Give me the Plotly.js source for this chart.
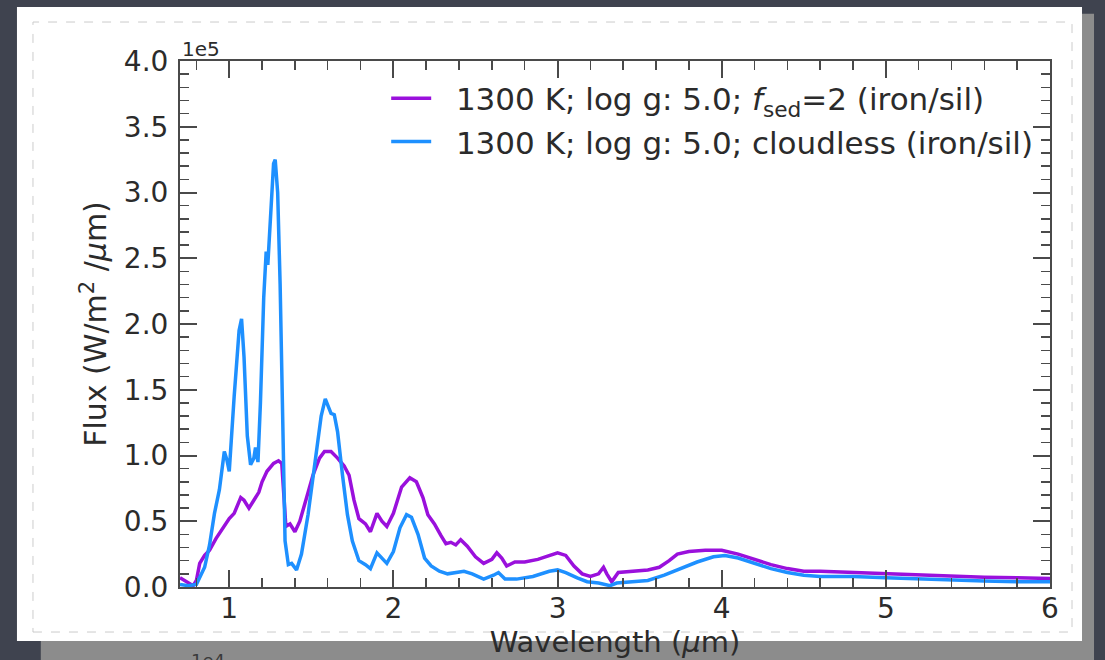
<!DOCTYPE html>
<html>
<head>
<meta charset="utf-8">
<script src="https://cdn.plot.ly/plotly-3.0.1.min.js"></script>
<style>
  html, body { margin: 0; padding: 0; background: #3f434f; }
  #chart { width: 1105px; height: 660px; }
</style>
</head>
<body>
<div id="chart"></div>
<script>
// Wavelength (μm) and flux (units of 1e5 W/m^2/μm)
const wavelengthCloudy = [0.70,0.74,0.78,0.80,0.82,0.85,0.88,0.92,0.96,1.00,1.03,1.07,1.09,1.12,1.15,1.18,1.20,1.23,1.27,1.30,1.32,1.335,1.345,1.37,1.40,1.43,1.47,1.51,1.55,1.58,1.62,1.66,1.70,1.73,1.76,1.79,1.83,1.86,1.90,1.93,1.96,2.00,2.05,2.10,2.14,2.18,2.21,2.25,2.29,2.32,2.35,2.38,2.41,2.45,2.50,2.55,2.60,2.63,2.66,2.69,2.74,2.80,2.88,2.95,3.00,3.05,3.10,3.15,3.20,3.25,3.28,3.30,3.33,3.37,3.45,3.55,3.62,3.68,3.73,3.80,3.90,4.00,4.10,4.20,4.30,4.40,4.50,4.60,4.70,4.80,4.90,5.00,5.20,5.40,5.60,5.80,6.00];
const fluxCloudy = [0.07,0.04,0.01,0.05,0.18,0.24,0.28,0.37,0.44,0.52,0.56,0.68,0.66,0.60,0.66,0.72,0.80,0.88,0.94,0.96,0.94,0.60,0.46,0.48,0.42,0.50,0.68,0.85,0.98,1.03,1.03,0.98,0.92,0.85,0.66,0.52,0.48,0.42,0.56,0.50,0.46,0.56,0.76,0.83,0.80,0.68,0.55,0.48,0.39,0.33,0.34,0.32,0.36,0.31,0.23,0.18,0.21,0.26,0.22,0.16,0.19,0.19,0.21,0.24,0.26,0.24,0.16,0.10,0.08,0.10,0.15,0.10,0.04,0.11,0.12,0.13,0.15,0.20,0.25,0.27,0.28,0.28,0.25,0.21,0.17,0.14,0.12,0.12,0.115,0.11,0.105,0.10,0.09,0.08,0.075,0.07,0.065];

const wavelengthClear = [0.70,0.75,0.80,0.85,0.88,0.91,0.94,0.97,0.985,1.00,1.03,1.06,1.075,1.09,1.11,1.13,1.15,1.16,1.175,1.19,1.21,1.225,1.235,1.25,1.27,1.28,1.295,1.31,1.325,1.34,1.36,1.38,1.41,1.44,1.48,1.52,1.56,1.585,1.60,1.62,1.64,1.66,1.69,1.72,1.75,1.79,1.83,1.86,1.90,1.93,1.96,2.00,2.04,2.08,2.11,2.15,2.19,2.23,2.28,2.33,2.38,2.43,2.48,2.55,2.61,2.64,2.68,2.75,2.85,2.95,3.00,3.05,3.12,3.18,3.25,3.30,3.32,3.36,3.45,3.55,3.65,3.75,3.85,3.95,4.02,4.10,4.20,4.30,4.40,4.50,4.60,4.80,5.00,5.20,5.40,5.60,5.80,6.00];
const fluxClear = [0.02,0.01,0.02,0.15,0.32,0.56,0.74,1.03,0.97,0.88,1.45,1.95,2.04,1.75,1.15,0.93,0.98,1.06,0.95,1.40,2.20,2.55,2.45,2.80,3.22,3.25,3.00,2.30,1.20,0.35,0.17,0.18,0.13,0.25,0.55,0.92,1.30,1.43,1.38,1.32,1.31,1.18,0.85,0.55,0.35,0.20,0.17,0.14,0.26,0.22,0.18,0.27,0.45,0.55,0.53,0.40,0.22,0.16,0.12,0.10,0.11,0.12,0.10,0.06,0.09,0.11,0.06,0.06,0.08,0.12,0.13,0.11,0.07,0.04,0.03,0.02,0.01,0.03,0.04,0.05,0.09,0.14,0.19,0.23,0.24,0.22,0.18,0.14,0.11,0.09,0.08,0.08,0.07,0.06,0.05,0.045,0.04,0.04];

const seriesNames = [
  '\u00a0\u00a01300 K; log g: 5.0; <i>f</i><sub>sed</sub>=2 (iron/sil)',
  '\u00a0\u00a01300 K; log g: 5.0; cloudless (iron/sil)'
];
const xTickVals = [1, 2, 3, 4, 5, 6];
const yTickVals = [0, 0.5, 1.0, 1.5, 2.0, 2.5, 3.0, 3.5, 4.0];

const textColor = '#2b2b2b';
const font = 'DejaVu Sans, sans-serif';

const traces = [
  {x: wavelengthCloudy, y: fluxCloudy, name: seriesNames[0], type: 'scatter', mode: 'lines',
   line: {color: '#9a10dc', width: 3.5}},
  {x: wavelengthClear, y: fluxClear, name: seriesNames[1], type: 'scatter', mode: 'lines',
   line: {color: '#1e90ff', width: 3.5}}
];

const axisCommon = {
  showline: true, linecolor: '#4a4a4a', linewidth: 2, mirror: 'allticks',
  ticks: 'inside', ticklen: 17, tickwidth: 2, tickcolor: '#4a4a4a',
  showgrid: false, zeroline: false,
  tickfont: {family: font, size: 28, color: textColor}
};

const layout = {
  width: 1105, height: 660,
  paper_bgcolor: '#3f434f', plot_bgcolor: 'rgba(0,0,0,0)',
  margin: {l: 180, r: 55, t: 61, b: 73},
  showlegend: true,
  legend: {x: 0.237, y: 0.98, xanchor: 'left', yanchor: 'top', bgcolor: 'rgba(0,0,0,0)',
           font: {family: font, size: 31, color: textColor}, itemwidth: 40, tracegroupgap: 0},
  xaxis: Object.assign({}, axisCommon, {
    range: [0.7, 6], tickvals: xTickVals, ticklabelstandoff: -5,
    minor: {dtick: 0.2, tick0: 0, ticks: 'inside', ticklen: 9, tickwidth: 1.5, tickcolor: '#4a4a4a', showgrid: false},
    title: {text: 'Wavelength (<i>μ</i>m)', font: {family: font, size: 29, color: textColor}, standoff: 2}
  }),
  yaxis: Object.assign({}, axisCommon, {
    range: [0, 4.0], tickvals: yTickVals, tickformat: '.1f', ticklabelstandoff: 4,
    minor: {dtick: 0.1, tick0: 0, ticks: 'inside', ticklen: 9, tickwidth: 1.5, tickcolor: '#4a4a4a', showgrid: false},
    title: {text: 'Flux (W/m<sup>2</sup> /<i>μ</i>m)', font: {family: font, size: 30, color: textColor}, standoff: 8}
  }),
  shapes: [
    // paper shadow
    {type: 'rect', xref: 'paper', yref: 'paper', x0: -0.16, x1: 1.0506, y0: -0.14, y1: 1.09,
     fillcolor: '#8c8c8c', line: {width: 0}, layer: 'below'},
    // white paper
    {type: 'rect', xref: 'paper', yref: 'paper', x0: -0.1874, x1: 1.0368, y0: -0.1027, y1: 1.1027,
     fillcolor: '#ffffff', line: {width: 0}, layer: 'below'},
    // faint torn outline
    {type: 'rect', xref: 'paper', yref: 'paper', x0: -0.169, x1: 1.0253, y0: -0.0856, y1: 1.0741,
     fillcolor: 'rgba(0,0,0,0)', line: {width: 1, color: '#cccccc', dash: 'dash'}, layer: 'below'}
  ],
  annotations: [
    {text: '1e5', xref: 'paper', yref: 'paper', x: 0, y: 1.0, xanchor: 'left', yanchor: 'bottom',
     showarrow: false, font: {family: font, size: 20, color: textColor}, yshift: -2},
    {text: '1e4', xref: 'paper', yref: 'paper', x: 0.01, y: -0.14, xanchor: 'left', yanchor: 'middle',
     showarrow: false, font: {family: font, size: 18, color: '#3a3a3a'}}
  ]
};

Plotly.newPlot('chart', traces, layout, {displayModeBar: false, staticPlot: true});
</script>
</body>
</html>
